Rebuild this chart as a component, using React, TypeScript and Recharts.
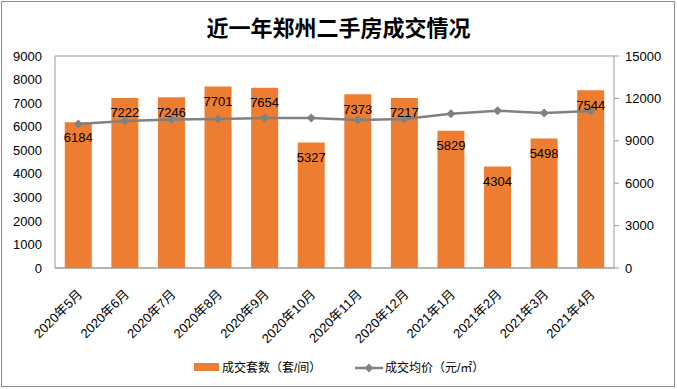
import { ComposedChart, Bar, Line, XAxis, YAxis, CartesianGrid, LabelList } from 'recharts';

const months = [
  '2020年5月', '2020年6月', '2020年7月', '2020年8月', '2020年9月', '2020年10月',
  '2020年11月', '2020年12月', '2021年1月', '2021年2月', '2021年3月', '2021年4月',
];
const deals = [6184, 7222, 7246, 7701, 7654, 5327, 7373, 7217, 5829, 4304, 5498, 7544];
const avgPrice = [10190, 10400, 10510, 10540, 10610, 10610, 10470, 10540, 10910, 11130, 10960, 11100];
const leftTicks = [0, 1000, 2000, 3000, 4000, 5000, 6000, 7000, 8000, 9000];
const rightTicks = [0, 3000, 6000, 9000, 12000, 15000];

const font = "'Liberation Sans', 'Noto Sans CJK SC', sans-serif";
const orange = '#ED7D31';
const gray = '#808080';

const data = months.map((m, i) => ({ month: m, deals: deals[i], price: avgPrice[i] }));

// rotated category label, end of text sits near the tick
const MonthTick = (props: any) => {
  const { x, y, payload } = props;
  return (
    <text
      x={x + 5}
      y={y + 19}
      textAnchor="end"
      fontSize={13}
      fontFamily={font}
      fill="#000"
      transform={`rotate(-45, ${x + 5}, ${y + 19})`}
    >
      {payload.value}
    </text>
  );
};

const Diamond = (props: any) => {
  const { cx, cy } = props;
  if (cx == null || cy == null) return null;
  const s = 4.5;
  return <path d={`M${cx},${cy - s}L${cx + s},${cy}L${cx},${cy + s}L${cx - s},${cy}Z`} fill={gray} />;
};

export default function App() {
  return (
    <div style={{ position: 'absolute', left: 0, top: 0, width: 677, height: 389, background: '#fff', fontFamily: font }}>
      <div
        style={{
          position: 'absolute', left: 1, top: 1, width: 674, height: 386,
          boxSizing: 'border-box', border: '1px solid #8c8c8c',
        }}
      />
      <div
        style={{
          position: 'absolute', left: 0, top: 10, width: 677, textAlign: 'center',
          fontSize: 22, fontWeight: 700, fontFamily: "'Noto Sans CJK SC', serif", color: '#000',
        }}
      >
        近一年郑州二手房成交情况
      </div>
      <div style={{ position: 'absolute', left: 0, top: 0 }}>
        <ComposedChart
          width={677}
          height={389}
          data={data}
          margin={{ top: 56, right: 0, left: 0, bottom: 51 }}
          barCategoryGap="21%"
        >
          <CartesianGrid vertical={false} stroke="#9a9a9a" strokeWidth={1} />
          <XAxis
            dataKey="month"
            height={70}
            interval={0}
            tickLine={false}
            axisLine={{ stroke: '#9a9a9a' }}
            tick={<MonthTick />}
          />
          <YAxis
            yAxisId="left"
            width={55}
            domain={[0, 9000]}
            ticks={leftTicks}
            tickLine={false}
            tickSize={0}
            tickMargin={13}
            axisLine={{ stroke: '#9a9a9a' }}
            tick={{ fontSize: 13, fill: '#000', fontFamily: font }}
          />
          <YAxis
            yAxisId="right"
            orientation="right"
            width={63}
            domain={[0, 15000]}
            ticks={rightTicks}
            tickSize={5}
            tickMargin={6}
            tickLine={{ stroke: '#9a9a9a' }}
            axisLine={{ stroke: '#9a9a9a' }}
            tick={{ fontSize: 13, fill: '#000', fontFamily: font, textAnchor: 'start' }}
          />
          <Bar yAxisId="left" dataKey="deals" fill={orange} isAnimationActive={false}>
            <LabelList dataKey="deals" position="insideTop" offset={10} fontSize={13} fill="#000" fontFamily={font} />
          </Bar>
          <Line
            yAxisId="right"
            dataKey="price"
            type="linear"
            stroke={gray}
            strokeWidth={2.5}
            dot={<Diamond />}
            activeDot={false}
            isAnimationActive={false}
          />
        </ComposedChart>
      </div>
      {/* legend */}
      <div style={{ position: 'absolute', left: 194, top: 363, width: 25, height: 8, background: orange }} />
      <div style={{ position: 'absolute', left: 222, top: 358, fontSize: 12, color: '#000', whiteSpace: 'nowrap' }}>
        成交套数（套/间）
      </div>
      <svg style={{ position: 'absolute', left: 354, top: 362 }} width={30} height={12}>
        <line x1={1} y1={6} x2={29} y2={6} stroke={gray} strokeWidth={2.5} />
        <path d="M15,1.5L19.5,6L15,10.5L10.5,6Z" fill={gray} />
      </svg>
      <div style={{ position: 'absolute', left: 385, top: 358, fontSize: 12, color: '#000', whiteSpace: 'nowrap' }}>
        成交均价（元/㎡）
      </div>
    </div>
  );
}
